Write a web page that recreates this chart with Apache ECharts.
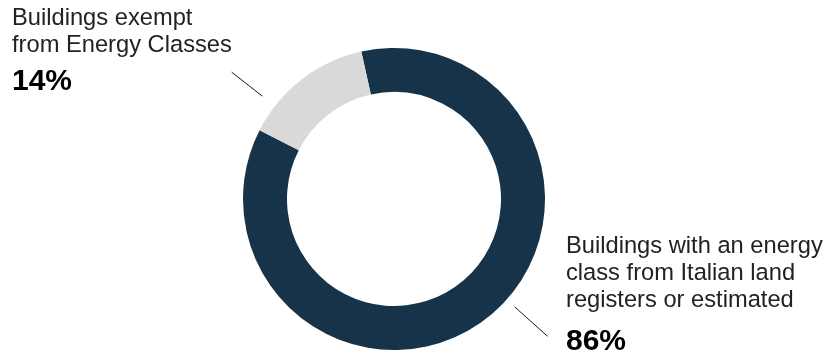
<!DOCTYPE html>
<html>
<head>
<meta charset="utf-8">
<script src="https://cdn.jsdelivr.net/npm/echarts@6/dist/echarts.min.js"></script>
<style>
  html, body { margin: 0; padding: 0; background: #ffffff; }
  #chart { width: 837px; height: 359px; }
</style>
</head>
<body>
<div id="chart"></div>
<script>
// Share of buildings by energy-class source
const categories = [
  'Buildings with an energy class from Italian land registers or estimated',
  'Buildings exempt from Energy Classes'
];
const labelLines = [
  ['Buildings with an energy', 'class from Italian land', 'registers or estimated'],
  ['Buildings exempt', 'from Energy Classes']
];
const shares = [86, 14];
const colors = ['#163349', '#d9d9d9'];

const chart = echarts.init(document.getElementById('chart'), null, { renderer: 'canvas' });

const CX = 394, CY = 199, R_IN = 107, R_OUT = 151;

// point at a given clockwise angle from 12 o'clock and radius
function polar(angleDeg, r) {
  const a = angleDeg * Math.PI / 180;
  return [CX + r * Math.sin(a), CY - r * Math.cos(a)];
}

// label block placement and leader-line geometry per slice
const labelPlacement = [
  { x: 566, y: 233, lineAngle: 131.8, lineFrom: R_OUT + 11, lineTo: R_OUT + 55, pctLineHeight: 56 },
  { x: 12, y: 5, lineAngle: -52, lineFrom: R_OUT + 16, lineTo: R_OUT + 55, pctLineHeight: 46 }
];

const font = 'Liberation Sans, Arial, Helvetica, sans-serif';

chart.setOption({
  animation: false,
  series: [{
    type: 'pie',
    center: [CX, CY],
    radius: [R_IN, R_OUT],
    startAngle: 102.5,
    clockwise: true,
    silent: true,
    avoidLabelOverlap: false,
    data: categories.map((name, i) => ({
      name: name,
      value: shares[i],
      itemStyle: { color: colors[i] },
      label: {
        rich: {
          v: { lineHeight: labelPlacement[i].pctLineHeight }
        }
      }
    })),
    label: {
      show: true,
      position: 'outside',
      formatter: p => '{t|' + labelLines[p.dataIndex].join('\n') + '}\n{v|' + p.value + '%}',
      rich: {
        t: { fontFamily: font, fontSize: 23.7, lineHeight: 27, color: '#222222' },
        v: { fontFamily: font, fontSize: 30, fontWeight: 'bold', color: '#000000' }
      }
    },
    labelLine: {
      show: true,
      smooth: false,
      lineStyle: { color: '#1a1a1a', width: 1 }
    },
    labelLayout: function (params) {
      const pl = labelPlacement[params.dataIndex];
      const p1 = polar(pl.lineAngle, pl.lineFrom);
      const p2 = polar(pl.lineAngle, pl.lineTo);
      return {
        x: pl.x,
        y: pl.y,
        align: 'left',
        verticalAlign: 'top',
        labelLinePoints: [p1, p2, p2]
      };
    }
  }]
});
</script>
</body>
</html>
